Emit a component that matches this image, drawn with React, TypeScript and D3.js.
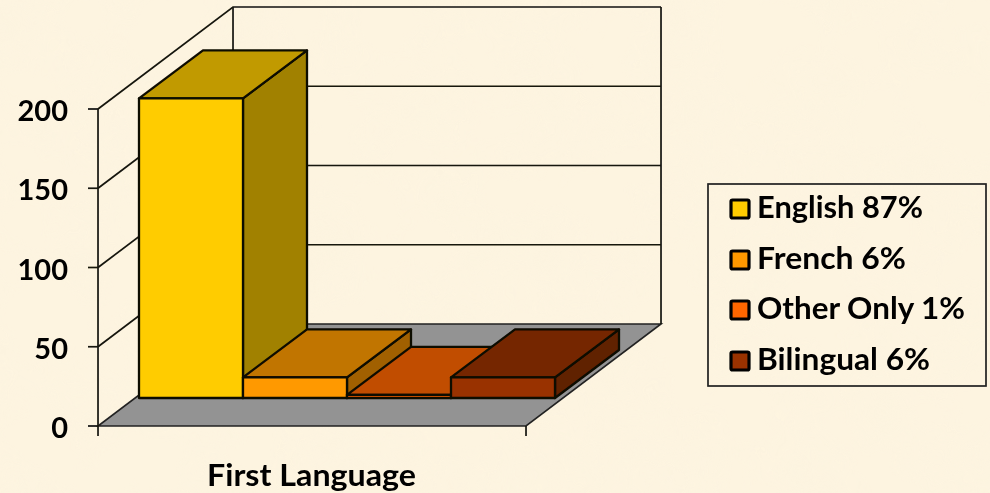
import React from "react";
import * as d3 from "d3";

const categories = ["English", "French", "Other Only", "Bilingual"];
const values = [189, 13, 2, 13];
const frontColors = ["#FFCC00", "#FF9900", "#FF6600", "#993300"];
const legendLabels = ["English 87%", "French 6%", "Other Only 1%", "Bilingual 6%"];
const legendWidths = [166, 149, 208, 173];
const legendBaselines = [218, 269, 319, 370];
const yTicks = [0, 50, 100, 150, 200];

const W = 990, H = 493;
const FONT = "Lato, 'Open Sans', sans-serif";
const y = d3.scaleLinear().domain([0, 200]).range([426, 109]);
const x = d3.scaleBand<string>().domain(categories).range([139, 555]);
const wall = { dx: 135, dy: -102 };
const barDepth = { dx: 64, dy: -48 };
const baseY = 398;
const axisRight = 526;
const ink = "#14140c";

const pts = (p: number[][]) => p.map((q) => q.join(",")).join(" ");

export default function App() {
  const bw = x.bandwidth();
  const y0 = y(0);
  return (
    <svg width={W} height={H} style={{ position: "absolute", left: 0, top: 0, display: "block" }}>
      <defs>
        <filter id="paper" x="0" y="0" width="100%" height="100%">
          <feTurbulence type="fractalNoise" baseFrequency="0.014" numOctaves="3" seed="4" />
          <feColorMatrix values="0 0 0 0 0.97  0 0 0 0 0.90  0 0 0 0 0.74  1.1 0 0 0 -0.42" />
        </filter>
        <filter id="soft"><feGaussianBlur stdDeviation="0.5" /></filter>
      </defs>
      <rect width={W} height={H} fill="#FDF4E0" />
      <rect width={W} height={H} fill="#fff" filter="url(#paper)" opacity={0.75} />
      <g filter="url(#soft)">
        <polygon
          points={pts([[98, y0], [axisRight, y0], [axisRight + wall.dx, y0 + wall.dy], [98 + wall.dx, y0 + wall.dy]])}
          fill="#939393" stroke="#222" strokeWidth={1.6}
        />
        <g fill="none" stroke={ink} strokeWidth={1.7}>
          {yTicks.slice(1).map((t) => (
            <polyline key={t} points={pts([[98, y(t)], [98 + wall.dx, y(t) + wall.dy], [axisRight + wall.dx, y(t) + wall.dy]])} />
          ))}
          <line x1={98 + wall.dx} x2={98 + wall.dx} y1={y(200) + wall.dy} y2={y0 + wall.dy} />
          <line x1={axisRight + wall.dx} x2={axisRight + wall.dx} y1={y(200) + wall.dy} y2={y0 + wall.dy} />
          <line x1={98} x2={98} y1={y(200)} y2={436} />
          <line x1={axisRight} x2={axisRight} y1={y0} y2={436} />
          {yTicks.map((t) => (
            <line key={t} x1={88} x2={98} y1={y(t)} y2={y(t)} />
          ))}
        </g>
        {categories.map((c, i) => {
          const x0 = x(c)!;
          const x1 = x0 + bw;
          const top = baseY - (y0 - y(values[i]));
          const col = d3.rgb(frontColors[i]);
          const shade = (k: number) => d3.rgb(col.r * k, col.g * k, col.b * k).formatHex();
          return (
            <g key={c} stroke="#0d0a02" strokeWidth={2.3} strokeLinejoin="round">
              <polygon points={pts([[x1, top], [x1 + barDepth.dx, top + barDepth.dy], [x1 + barDepth.dx, baseY + barDepth.dy], [x1, baseY]])} fill={shade(0.63)} />
              <polygon points={pts([[x0, top], [x1, top], [x1 + barDepth.dx, top + barDepth.dy], [x0 + barDepth.dx, top + barDepth.dy]])} fill={shade(0.755)} />
              <rect x={x0} y={top} width={bw} height={baseY - top} fill={frontColors[i]} />
            </g>
          );
        })}
        <g fontFamily={FONT} fontWeight={700} fontSize={29} fill="#000" textAnchor="end">
          {yTicks.map((t) => (
            <text key={t} x={68} y={y(t) + 12}>{t}</text>
          ))}
        </g>
        <text x={207} y={486} fontFamily={FONT} fontWeight={700} fontSize={30} fill="#000" textLength={209} lengthAdjust="spacingAndGlyphs">First Language</text>
        <rect x={708} y={184} width={278} height={202} fill="none" stroke="#222" strokeWidth={1.7} />
        {categories.map((c, i) => (
          <g key={c}>
            <rect x={731} y={legendBaselines[i] - 18} width={18} height={18} rx={1.5} fill={frontColors[i]} stroke="#000" strokeWidth={3.2} />
            <text x={757} y={legendBaselines[i]} fontFamily={FONT} fontWeight={700} fontSize={30} fill="#000" textLength={legendWidths[i]} lengthAdjust="spacingAndGlyphs">{legendLabels[i]}</text>
          </g>
        ))}
      </g>
    </svg>
  );
}
